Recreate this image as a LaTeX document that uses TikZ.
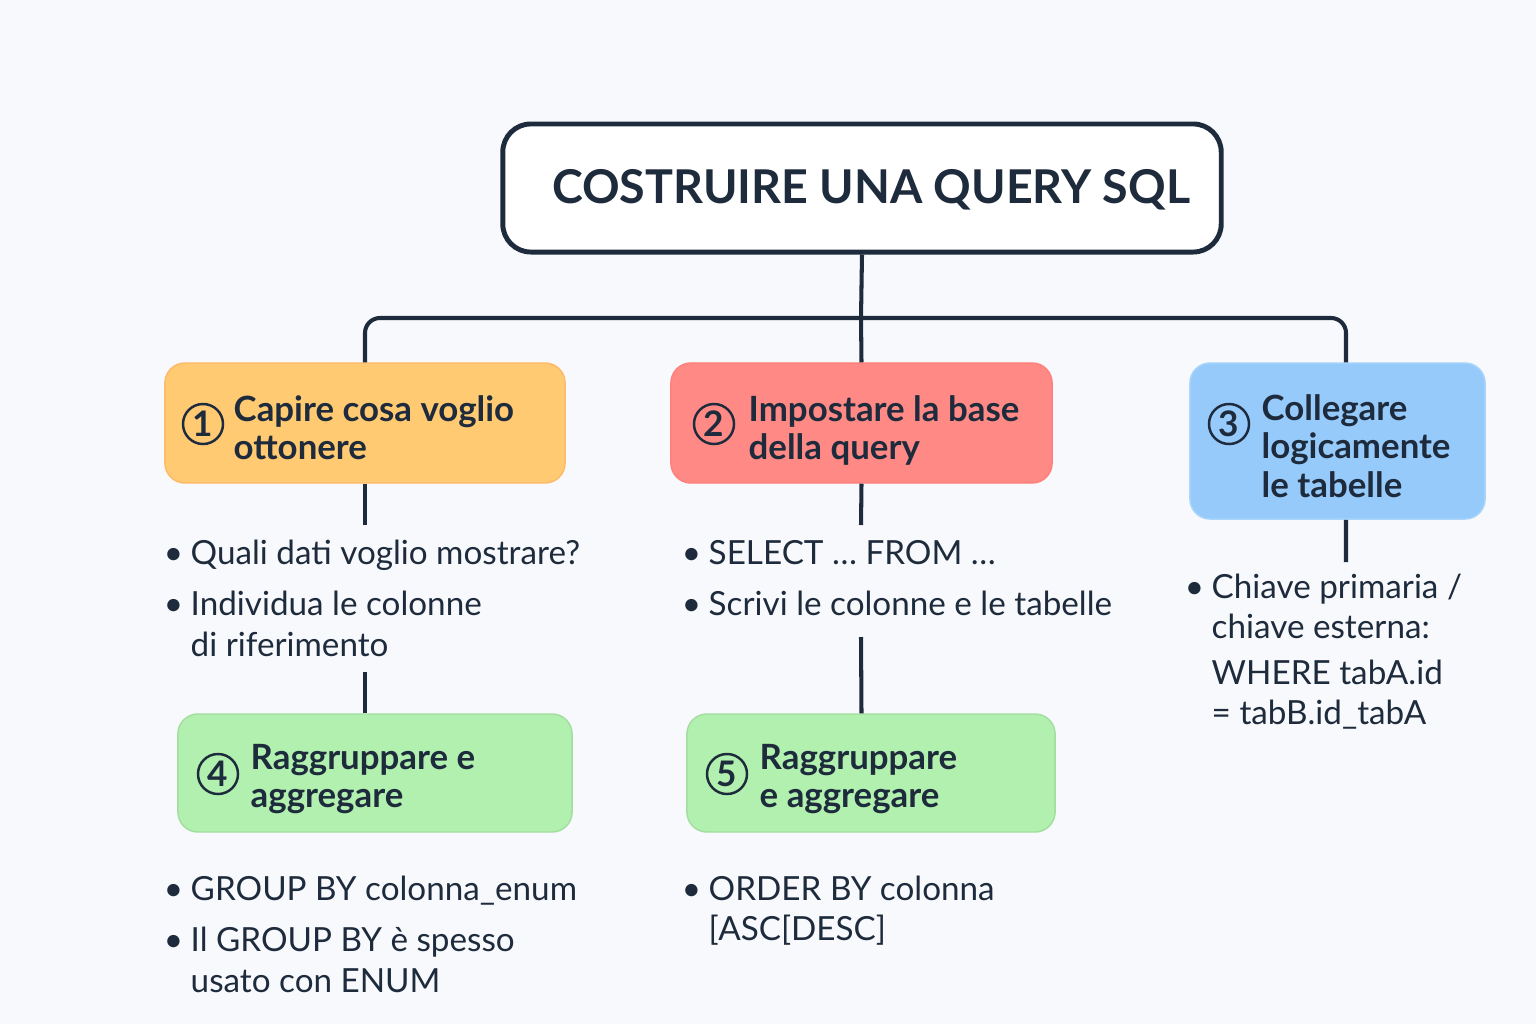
\documentclass[tikz,border=0pt]{standalone}
\usepackage{fontspec}
\setmainfont{Lato}
\usetikzlibrary{positioning}

\definecolor{ink}{HTML}{1E2B3C}
\definecolor{bg}{HTML}{F7F9FC}
\definecolor{orangebox}{HTML}{FFCA72}
\definecolor{redbox}{HTML}{FF8A85}
\definecolor{bluebox}{HTML}{95CAFA}
\definecolor{greenbox}{HTML}{B1F0AE}

\tikzset{
  stepbox/.style={rounded corners=0.2cm, inner sep=0pt, line width=0.4pt},
  titlebox/.style={draw=ink, fill=white, line width=1.4pt, rounded corners=0.28cm,
    minimum width=7.18cm, minimum height=1.28cm},
  num/.style={circle, draw=ink, line width=0.7pt, minimum size=0.4cm, inner sep=0pt,
    text=ink, font=\fontsize{10}{10}\bfseries\selectfont},
  boxtext/.style={anchor=base west, inner sep=0pt, text=ink,
    font=\fontsize{9.9}{11}\bfseries\selectfont},
  list/.style={anchor=base west, inner sep=0pt, text=ink,
    font=\fontsize{9.45}{11.6}\selectfont},
  link/.style={draw=ink, line width=1.15pt},
}
\newcommand{\bl}{\makebox[0.28cm][l]{\kern0.3pt\textbullet}}

\begin{document}
\begin{tikzpicture}[x=0.01cm, y=-0.01cm]
\fill[bg] (0,0) rectangle (1536,1024);
\useasboundingbox (0,0) rectangle (1536,1024);

\node[titlebox] (title) at (862,188) {};
\node[text=ink, font=\fontsize{13.25}{15}\bfseries\selectfont] (tt) at (871,190) {COSTRUIRE UNA QUERY SQL};

\node[stepbox, fill=orangebox, draw=orangebox!92!red, minimum width=4cm, minimum height=1.2cm] (b1) at (365,423) {};
\node[stepbox, fill=redbox, draw=redbox!92!red, minimum width=3.81cm, minimum height=1.2cm] (b2) at (861.5,423) {};
\node[stepbox, fill=bluebox, draw=bluebox!80!white, minimum width=2.95cm, minimum height=1.56cm] (b3) at (1337.5,441) {};
\node[stepbox, fill=greenbox, draw=greenbox!92!black, minimum width=3.94cm, minimum height=1.18cm] (b4) at (375,773) {};
\node[stepbox, fill=greenbox, draw=greenbox!92!black, minimum width=3.68cm, minimum height=1.18cm] (b5) at (871,773) {};

\node[num] (n1) at (203,424) {1};
\node[num] (n2) at (714,424) {2};
\node[num] (n3) at (1229,424) {3};
\node[num] (n4) at (218,774) {4};
\node[num] (n5) at (727,774) {5};

\node[boxtext] (t1) at (233,421) {\begin{tabular}[t]{@{}l@{}}Capire cosa voglio\\ottonere\end{tabular}};
\node[boxtext] (t2) at (748,421) {\begin{tabular}[t]{@{}l@{}}Impostare la base\\della query\end{tabular}};
\node[boxtext] (t3) at (1261,420) {\begin{tabular}[t]{@{}l@{}}Collegare\\logicamente\\le tabelle\end{tabular}};
\node[boxtext] (t4) at (250,769) {\begin{tabular}[t]{@{}l@{}}Raggruppare e\\aggregare\end{tabular}};
\node[boxtext] (t5) at (759,769) {\begin{tabular}[t]{@{}l@{}}Raggruppare\\e aggregare\end{tabular}};

\node[list] (q1) at (162,564) {\begin{tabular}[t]{@{}l@{}l@{}}
\bl & Quali dati voglio mostrare?\\[3pt]
\bl & Individua le colonne\\
    & di riferimento
\end{tabular}};
\node[list] (q2) at (680,564) {\begin{tabular}[t]{@{}l@{}l@{}}
\bl & SELECT … FROM …\\[3pt]
\bl & Scrivi le colonne e le tabelle
\end{tabular}};
\node[list] (q3) at (1183,598) {\begin{tabular}[t]{@{}l@{}l@{}}
\bl & Chiave primaria /\\
    & chiave esterna:\\[1.3pt]
    & WHERE tabA.id\\
    & = tabB.id\_tabA
\end{tabular}};
\node[list] (q4) at (162,900) {\begin{tabular}[t]{@{}l@{}l@{}}
\bl & GROUP BY colonna\_enum\\[3pt]
\bl & Il GROUP BY è spesso\\
    & usato con ENUM
\end{tabular}};
\node[list] (q5) at (680,900) {\begin{tabular}[t]{@{}l@{}l@{}}
\bl & ORDER BY colonna\\
    & [ASC[DESC]
\end{tabular}};

\coordinate (bus) at (861,318);
\coordinate (l1) at (365,525);
\coordinate (l2) at (861,525);
\coordinate (l3) at (1346,562);
\coordinate (l4) at (365,672);
\coordinate (l5) at (861,637);

\draw[link] (title.south) -- (bus);
\draw[link, rounded corners=0.15cm] (b1.north) |- (bus) -| ([xshift=0.085cm]b3.north);
\draw[link] (bus) -- (b2.north);
\draw[link] (b1.south) -- (l1);
\draw[link] (b2.south) -- (l2);
\draw[link] ([xshift=0.085cm]b3.south) -- (l3);
\draw[link] (l4) -- (b1.south |- b4.north);
\draw[link] (l5) -- (b2.south |- b5.north);
\end{tikzpicture}
\end{document}
